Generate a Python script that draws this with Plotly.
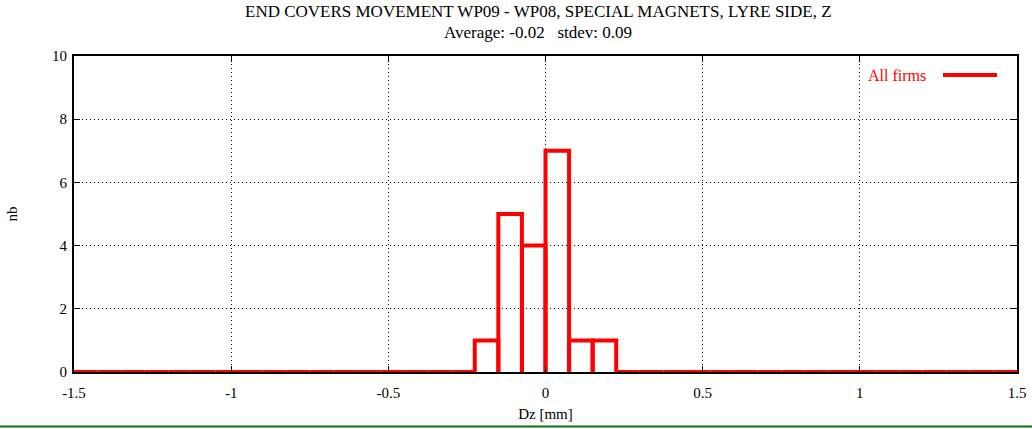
import plotly.graph_objects as go

# Histogram of Dz: bins of width 0.075 mm spanning -1.5 .. 1.5
bin_width = 0.075
bin_start = -1.5
counts = [0] * 40
# non-empty bins (left edge -> count)
nonzero_left_edges = [-0.225, -0.15, -0.075, 0.0, 0.075, 0.15]
nonzero_counts = [1, 5, 4, 7, 1, 1]
for edge, c in zip(nonzero_left_edges, nonzero_counts):
    counts[int(round((edge - bin_start) / bin_width))] = c

x_ticks = [-1.5, -1, -0.5, 0, 0.5, 1, 1.5]
x_tick_text = ["-1.5", "-1", "-0.5", "0", "0.5", "1", "1.5"]
y_ticks = [0, 2, 4, 6, 8, 10]
y_tick_text = ["0", "2", "4", "6", "8", "10"]

title_main = "END COVERS MOVEMENT WP09 - WP08, SPECIAL MAGNETS, LYRE SIDE, Z"
title_sub = "Average: -0.02   stdev: 0.09"
series_name = "All firms"

RED = "#ff0000"
FONT = "Liberation Serif"

# Box outlines (gnuplot-style "with boxes")
xs, ys = [], []
for i, c in enumerate(counts):
    x0 = bin_start + i * bin_width
    x1 = x0 + bin_width
    xs += [x0, x0, x1, x1, None]
    ys += [0, c, c, 0, None]

fig = go.Figure()
fig.add_trace(go.Scatter(
    x=xs, y=ys, mode="lines", name=series_name,
    line=dict(color=RED, width=4), connectgaps=False,
    showlegend=False, hoverinfo="skip",
))

L, R, T, B = 74, 15, 56, 57
W, H = 1032, 429
pw, ph = W - L - R, H - T - B

axis_common = dict(
    showline=True, linecolor="black", linewidth=2, mirror="ticks",
    ticks="inside", ticklen=6, tickwidth=1, tickcolor="black",
    showgrid=True, gridcolor="black", gridwidth=1, griddash="1px,3px",
    zeroline=False, automargin=False,
    tickfont=dict(family=FONT, size=15, color="black"),
)

fig.update_layout(
    width=W, height=H,
    margin=dict(l=L, r=R, t=T, b=B, autoexpand=False),
    paper_bgcolor="white", plot_bgcolor="white",
    font=dict(family=FONT, size=15, color="black"),
    xaxis=dict(range=[-1.5, 1.5], tickvals=x_ticks, ticktext=x_tick_text,
               ticklabelstandoff=6,
               title=dict(text="Dz [mm]", font=dict(family=FONT, size=15), standoff=8),
               **axis_common),
    yaxis=dict(range=[0, 10], tickvals=y_ticks, ticktext=y_tick_text,
               ticklabelstandoff=2,
               title=dict(text="nb", font=dict(family=FONT, size=15), standoff=31),
               **axis_common),
    showlegend=False,
)

# Two-line title, centred on the page
title_x = (538 - L) / pw
fig.add_annotation(text=title_main, xref="paper", yref="paper",
                   x=title_x, y=(T - 12) / ph + 1, yanchor="middle", showarrow=False,
                   font=dict(family=FONT, size=17, color="black"))
fig.add_annotation(text=title_sub.replace(" ", "&nbsp;"), xref="paper", yref="paper",
                   x=title_x, y=(T - 32) / ph + 1, yanchor="middle", showarrow=False,
                   font=dict(family=FONT, size=17, color="black"))

# Key: label followed by a line sample
key_y = 1 - (75 - T) / ph
fig.add_annotation(text=series_name, xref="paper", yref="paper",
                   x=(928 - L) / pw, y=key_y, xanchor="right", yanchor="middle",
                   showarrow=False, font=dict(family=FONT, size=16, color=RED))
fig.add_shape(type="line", xref="paper", yref="paper",
              x0=(943 - L) / pw, x1=(997 - L) / pw, y0=key_y, y1=key_y,
              line=dict(color=RED, width=4))

# Green rule along the bottom edge
fig.add_shape(type="line", xref="paper", yref="paper",
              x0=-L / pw, x1=(W - L) / pw,
              y0=-(426.5 - (H - B)) / ph, y1=-(426.5 - (H - B)) / ph,
              line=dict(color="#117011", width=2))

fig.write_html("out.html")
